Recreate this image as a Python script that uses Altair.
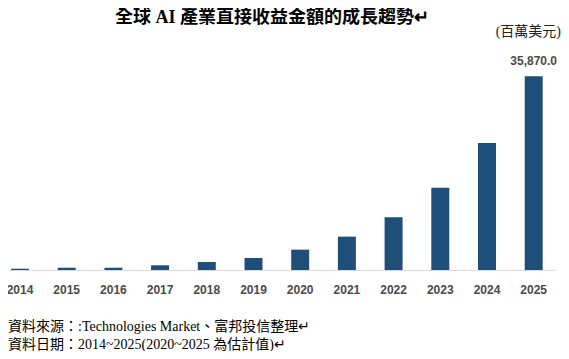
import altair as alt
import pandas as pd

years = [str(y) for y in range(2014, 2026)]
revenue = [240, 430, 430, 870, 1480, 2230, 3770, 6180, 9770, 15220, 23500, 35870]
bar_labels = ["", "", "", "", "", "", "", "", "", "", "", "35,870.0"]
title_text = ["全球 AI 產業直接收益金額的成長趨勢↵"]
unit_text = ["(百萬美元)"]
note1 = ["資料來源：:Technologies Market、富邦投信整理↵"]
note2 = ["資料日期：2014~2025(2020~2025 為估計值)↵"]

df = pd.DataFrame({"year": years, "value": revenue, "label": bar_labels})

SERIF = "Liberation Serif, Times New Roman, Noto Sans CJK TC"
SANS = "Liberation Sans, Arial, sans-serif"

x = alt.X(
    "year:N",
    sort=years,
    scale=alt.Scale(paddingInner=0.615, paddingOuter=0.164, align=0.196),
    axis=alt.Axis(
        title=None, labelAngle=0, ticks=False, labelPadding=14,
        labelFont=SANS, labelFontSize=12, labelFontWeight="bold",
        labelColor="#4a4a4a", domainColor="#d9d9d9", domainWidth=1, grid=False,
    ),
)
y = alt.Y("value:Q", scale=alt.Scale(domain=[0, 40000], nice=False), axis=None)

bars = alt.Chart(df).mark_bar(color="#1f4e79").encode(x=x, y=y)

labels = alt.Chart(df).mark_text(
    baseline="bottom", dy=-8, font=SANS, fontSize=12, fontWeight="bold", color="#4a4a4a"
).encode(x=x, y=y, text="label:N")

def note(txt, xv, yv, size, align="left", weight="normal", color="#000000"):
    return alt.Chart(pd.DataFrame({"t": txt})).mark_text(
        align=align, baseline="middle", font=SERIF, fontSize=size,
        fontWeight=weight, color=color,
    ).encode(text="t:N", x=alt.value(xv), y=alt.value(yv))

title = note(title_text, 107, -36, 18, weight="bold")
unit = note(unit_text, 553, -22, 14, align="right", color="#222222")
n1 = note(note1, 0, 273, 14)
n2 = note(note2, 0, 291, 14)

chart = alt.layer(bars, labels, title, unit, n1, n2).properties(
    width=547, height=216,
    padding={"left": 0, "top": 46, "right": 6, "bottom": 81},
    autosize="none",
).configure_view(stroke=None)

chart.save("out.html", embed_options={"renderer": "svg", "actions": False})
